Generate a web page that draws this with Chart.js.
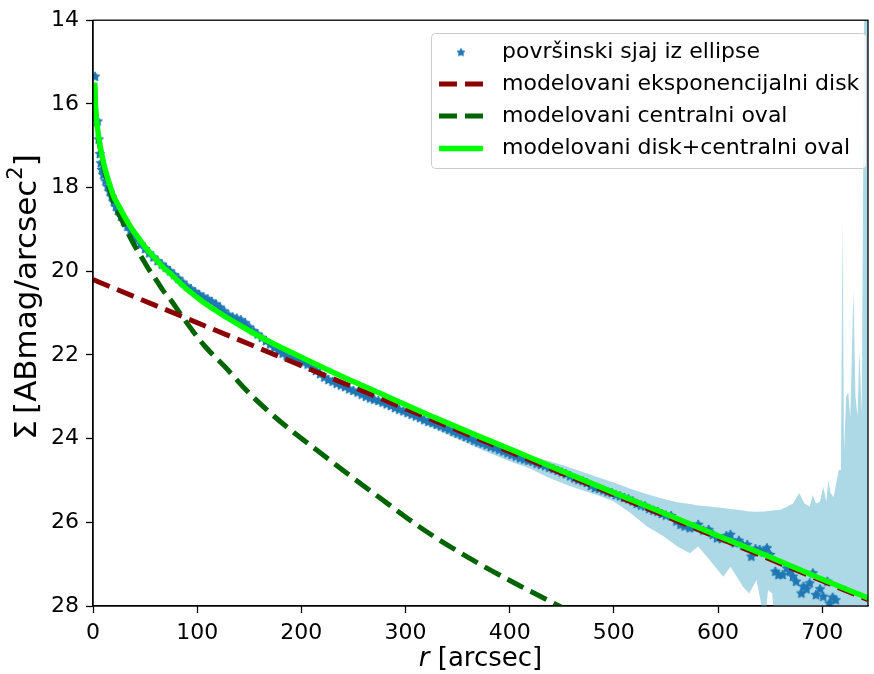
<!DOCTYPE html>
<html>
<head>
<meta charset="utf-8">
<script src="https://cdn.jsdelivr.net/npm/chart.js@4.4.1/dist/chart.umd.min.js"></script>
<style>
  html, body { margin: 0; padding: 0; background: #fff; }
  canvas { display: block; }
</style>
</head>
<body>
<canvas id="chart" width="874" height="674"></canvas>
<script>
// surface brightness profile
const dataR = [2, 4.5, 5.5, 6.5, 7.5, 8.5, 10, 12, 14, 16, 18, 20, 22, 24, 27, 30, 33, 36, 39, 42,
  46, 50, 54, 58, 62, 66, 70, 74, 78, 82, 86, 90, 94, 98, 102, 106, 110, 114, 118, 122,
  126, 130, 134, 138, 142, 146, 150, 154, 158, 162, 166, 170, 174, 178, 182, 186, 190, 194, 198, 202,
  206, 210, 214, 218, 222, 226, 230, 234, 238, 242, 246, 250, 254, 258, 262, 266, 270, 274, 278, 282,
  286, 290, 294, 298, 302, 306, 310, 314, 318, 322, 326, 330, 334, 338, 342, 346, 350, 354, 358, 362,
  366, 370, 374, 378, 382, 386, 390, 394, 398, 402, 406, 410, 414, 418, 422, 426, 430, 434, 438, 442,
  446, 450, 454, 458, 462, 466, 470, 474, 478, 482, 486, 490, 494, 498, 502, 506, 510, 514, 518, 522,
  526, 530, 534, 538, 542, 546, 550, 555, 560, 564, 568, 573, 577, 581, 586, 591, 595, 599, 604, 608,
  612, 616, 620, 624, 628, 632, 636, 640, 644, 647, 650, 655, 658, 662, 666, 669, 672, 675, 680, 682,
  685, 688, 691, 694, 698, 701, 705, 707, 710, 713, 717];
const dataSigma = [15.35, 16.42, 16.85, 17.2, 17.42, 17.58, 17.7, 17.85, 17.98, 18.1, 18.22, 18.35, 18.46, 18.56, 18.7, 18.82, 18.94, 19.04, 19.14, 19.24,
  19.36, 19.47, 19.57, 19.67, 19.76, 19.84, 19.92, 20.0, 20.09, 20.18, 20.27, 20.36, 20.43, 20.5, 20.56, 20.62, 20.67, 20.73, 20.79, 20.87,
  20.96, 21.05, 21.1, 21.13, 21.17, 21.24, 21.34, 21.43, 21.51, 21.59, 21.67, 21.75, 21.83, 21.9, 21.97, 22.03, 22.08, 22.12, 22.15, 22.18,
  22.23, 22.3, 22.38, 22.46, 22.54, 22.6, 22.64, 22.69, 22.73, 22.77, 22.82, 22.86, 22.9, 22.95, 23.0, 23.04, 23.07, 23.1, 23.14, 23.18,
  23.22, 23.27, 23.31, 23.35, 23.39, 23.43, 23.47, 23.51, 23.56, 23.6, 23.63, 23.67, 23.71, 23.75, 23.79, 23.84, 23.88, 23.92, 23.96, 24.0,
  24.05, 24.09, 24.12, 24.16, 24.2, 24.23, 24.27, 24.31, 24.35, 24.39, 24.43, 24.47, 24.5, 24.53, 24.55, 24.6, 24.63, 24.66, 24.7, 24.73,
  24.77, 24.81, 24.85, 24.9, 24.95, 24.99, 25.02, 25.06, 25.13, 25.18, 25.2, 25.24, 25.28, 25.3, 25.35, 25.38, 25.42, 25.45, 25.5, 25.56,
  25.6, 25.62, 25.68, 25.72, 25.75, 25.8, 25.84, 25.85, 25.98, 26.06, 26.1, 26.14, 26.12, 26.06, 26.2, 26.18, 26.3, 26.38, 26.4, 26.33,
  26.3, 26.5, 26.44, 26.56, 26.54, 26.82, 26.64, 26.66, 26.72, 26.62, 26.78, 27.18, 27.26, 27.26, 27.1, 27.18, 27.3, 27.42, 27.7, 27.54,
  27.6, 27.46, 27.22, 27.74, 27.6, 27.78, 27.42, 27.94, 27.8, 27.86, 28.2];

// error envelope
const bandR = [300, 340, 380, 400, 420, 436, 452, 468, 484, 500, 516, 532, 548, 561, 573, 581, 592, 605, 612, 624,
  630, 637, 645, 648, 652, 655, 660, 666, 672, 678, 683, 688, 691, 694, 698, 701, 704, 706, 708, 711,
  714, 716, 718, 719.5, 721, 723, 725, 727, 730, 732, 734, 735.7, 738, 740.5, 744];
const bandUpper = [23.34, 23.74, 24.1, 24.26, 24.42, 24.52, 24.64, 24.78, 24.92, 25.05, 25.2, 25.33, 25.44, 25.52, 25.56, 25.6, 25.62, 25.66, 25.68, 25.72,
  25.74, 25.75, 25.74, 25.73, 25.72, 25.71, 25.7, 25.63, 25.55, 25.3, 25.55, 25.62, 25.35, 25.55, 25.5, 25.15, 25.5, 25.0, 25.3, 25.4,
  25.0, 24.75, 24.75, 18.74, 24.3, 23.0, 22.9, 23.5, 20.45, 23.0, 23.48, 21.88, 23.4, 13, 13];
const bandLower = [23.42, 23.9, 24.34, 24.54, 24.72, 24.92, 25.08, 25.22, 25.35, 25.5, 25.78, 26.1, 26.34, 26.58, 26.74, 26.58, 26.9, 27.3, 27.06, 27.54,
  27.7, 27.38, 28.4, 27.62, 27.7, 28.5, 29, 29, 29, 29, 29, 29, 29, 29, 29, 29, 29, 29, 29, 29,
  29, 29, 29, 29, 29, 29, 29, 29, 29, 29, 29, 29, 29, 29, 29];

// models
const diskR = [0, 744];
const diskSigma = [20.2, 27.85];
const modelR = [1.6, 2, 2.5, 3, 4, 5, 6, 7.5, 9, 11, 13, 16, 20, 25, 30, 38, 47, 53, 60, 67,
  75, 84, 95, 107, 128, 147, 169, 188, 214, 245, 274, 320, 370, 410, 446, 470, 500, 550, 600, 650,
  700, 744];
const ovalSigma = [15.5, 15.85, 16.12, 16.32, 16.55, 16.75, 16.93, 17.15, 17.35, 17.58, 17.78, 18.05, 18.38, 18.64, 18.9, 19.3, 19.68, 19.93, 20.18, 20.45,
  20.7, 21.02, 21.4, 21.78, 22.32, 22.84, 23.36, 23.76, 24.26, 24.85, 25.39, 26.22, 26.98, 27.52, 27.98, 28.28, 28.65, 29.2, 29.75, 30.3,
  30.8, 31.3];
const totalSigma = [15.49, 15.83, 16.1, 16.29, 16.51, 16.71, 16.88, 17.09, 17.28, 17.5, 17.68, 17.93, 18.22, 18.45, 18.68, 19.01, 19.32, 19.51, 19.7, 19.9,
  20.07, 20.29, 20.53, 20.76, 21.1, 21.38, 21.68, 21.91, 22.22, 22.58, 22.9, 23.41, 23.94, 24.35, 24.73, 24.98, 25.29, 25.8, 26.32, 26.83,
  27.36, 27.81];

const xTicks = [0, 100, 200, 300, 400, 500, 600, 700];
const yTicks = [14, 16, 18, 20, 22, 24, 26, 28];
const seriesNames = ["površinski sjaj iz ellipse", "modelovani eksponencijalni disk",
  "modelovani centralni oval", "modelovani disk+centralni oval"];

const FONT = "'DejaVu Sans', 'Liberation Sans', sans-serif";
const BLUE = "#1f77b4";
const RED = "#8b0000";
const DKGREEN = "#006400";
const LIME = "#00ff00";
const BAND = "#add8e6";

function pts(xs, ys) {
  return xs.map((x, i) => ({ x: x, y: ys[i] }));
}

function makeStar(outer, inner, color) {
  const c = document.createElement("canvas");
  const s = Math.ceil(outer * 2) + 2;
  c.width = s;
  c.height = s;
  const g = c.getContext("2d");
  g.beginPath();
  for (let i = 0; i < 10; i++) {
    const rad = i % 2 === 0 ? outer : inner;
    const a = -Math.PI / 2 + i * Math.PI / 5;
    g.lineTo(s / 2 + rad * Math.cos(a), s / 2 + rad * Math.sin(a));
  }
  g.closePath();
  g.fillStyle = color;
  g.fill();
  g.strokeStyle = color;
  g.lineWidth = 1;
  g.stroke();
  return c;
}

const star = makeStar(5, 2.5, BLUE);
const legendStar = makeStar(4, 2, BLUE);

// full box, drawn over the data like matplotlib spines
const framePlugin = {
  id: "frame",
  afterDatasetsDraw(chart) {
    const a = chart.chartArea;
    const ctx = chart.ctx;
    ctx.save();
    ctx.strokeStyle = "#000";
    ctx.lineWidth = 1.3;
    ctx.strokeRect(a.left, a.top, a.right - a.left, a.bottom - a.top);
    ctx.restore();
  }
};

const titlePlugin = {
  id: "titles",
  afterDraw(chart) {
    const ctx = chart.ctx;
    const a = chart.chartArea;
    ctx.save();
    ctx.fillStyle = "#000";
    ctx.textBaseline = "middle";
    ctx.textAlign = "left";

    // x label, italic r
    ctx.font = "italic 26px " + FONT;
    const w1 = ctx.measureText("r").width;
    ctx.font = "26px " + FONT;
    const w2 = ctx.measureText(" [arcsec]").width;
    const x = (a.left + a.right) / 2 - (w1 + w2) / 2;
    ctx.font = "italic 26px " + FONT;
    ctx.fillText("r", x, 659);
    ctx.font = "26px " + FONT;
    ctx.fillText(" [arcsec]", x + w1, 659);

    // y label with superscript 2
    ctx.translate(28, 297);
    ctx.rotate(-Math.PI / 2);
    const p1 = "Σ\u2009[ABmag/arcsec";
    const p3 = "]";
    ctx.font = "31px " + FONT;
    const m1 = ctx.measureText(p1).width;
    const m3 = ctx.measureText(p3).width;
    ctx.font = "21px " + FONT;
    const m2 = ctx.measureText("2").width;
    const sx = -(m1 + m2 + m3) / 2;
    ctx.font = "31px " + FONT;
    ctx.fillText(p1, sx, 0);
    ctx.font = "21px " + FONT;
    ctx.fillText("2", sx + m1, -11);
    ctx.font = "31px " + FONT;
    ctx.fillText(p3, sx + m1 + m2, 0);
    ctx.restore();
  }
};

const legendPlugin = {
  id: "boxLegend",
  afterDraw(chart) {
    const ctx = chart.ctx;
    ctx.save();
    ctx.beginPath();
    ctx.roundRect(431.5, 33.5, 435, 135, 4);
    ctx.fillStyle = "rgba(255,255,255,0.8)";
    ctx.fill();
    ctx.strokeStyle = "#cccccc";
    ctx.lineWidth = 1;
    ctx.stroke();

    const rows = [52.5, 84, 116, 148.5];
    const hx0 = 439, hx1 = 483;
    rows.forEach((ry, i) => {
      if (i === 0) {
        ctx.drawImage(legendStar, (hx0 + hx1) / 2 - legendStar.width / 2, ry - legendStar.height / 2);
      } else {
        ctx.beginPath();
        ctx.moveTo(hx0, ry);
        ctx.lineTo(hx1, ry);
        ctx.lineCap = "butt";
        if (i === 1) { ctx.strokeStyle = RED; ctx.lineWidth = 5; ctx.setLineDash([18, 8]); }
        if (i === 2) { ctx.strokeStyle = DKGREEN; ctx.lineWidth = 5; ctx.setLineDash([18, 8]); }
        if (i === 3) { ctx.strokeStyle = LIME; ctx.lineWidth = 5.5; ctx.setLineDash([]); }
        ctx.stroke();
        ctx.setLineDash([]);
      }
      ctx.fillStyle = "#000";
      ctx.font = "22px " + FONT;
      ctx.textAlign = "left";
      ctx.textBaseline = "middle";
      ctx.fillText(seriesNames[i], 502, ry);
    });
    ctx.restore();
  }
};

const axisTicks = { color: "#000", font: { family: FONT, size: 22 }, padding: 7 };
const axisGrid = { drawOnChartArea: false, drawTicks: true, tickLength: 7, tickColor: "#000", tickWidth: 1.3 };
const axisBorder = { display: true, color: "#000", width: 1.3 };

new Chart(document.getElementById("chart"), {
  type: "line",
  data: {
    datasets: [
      {
        label: "band upper",
        data: pts(bandR, bandUpper),
        borderWidth: 0,
        pointRadius: 0,
        fill: "+1",
        backgroundColor: BAND,
        borderColor: BAND,
        order: 5,
        clip: 0
      },
      {
        label: "band lower",
        data: pts(bandR, bandLower),
        borderWidth: 0,
        pointRadius: 0,
        fill: false,
        order: 6,
        clip: 0
      },
      {
        label: seriesNames[0],
        data: pts(dataR, dataSigma),
        showLine: false,
        pointStyle: star,
        pointRadius: 5,
        backgroundColor: BLUE,
        borderColor: BLUE,
        order: 4,
        clip: 0
      },
      {
        label: seriesNames[1],
        data: pts(diskR, diskSigma),
        borderColor: RED,
        borderWidth: 5,
        borderDash: [18, 8],
        borderCapStyle: "butt",
        pointRadius: 0,
        fill: false,
        order: 2,
        clip: 0
      },
      {
        label: seriesNames[2],
        data: pts(modelR, ovalSigma),
        borderColor: DKGREEN,
        borderWidth: 5,
        borderDash: [18, 8],
        borderCapStyle: "butt",
        cubicInterpolationMode: "monotone",
        pointRadius: 0,
        fill: false,
        order: 3,
        clip: 0
      },
      {
        label: seriesNames[3],
        data: pts(modelR, totalSigma),
        borderColor: LIME,
        borderWidth: 5.5,
        cubicInterpolationMode: "monotone",
        borderJoinStyle: "round",
        pointRadius: 0,
        fill: false,
        order: 1,
        clip: 0
      }
    ]
  },
  options: {
    responsive: false,
    animation: false,
    devicePixelRatio: 1,
    layout: { padding: { top: 20, right: 2, left: 0, bottom: 0 } },
    plugins: { legend: { display: false }, tooltip: { enabled: false } },
    scales: {
      x: {
        type: "linear",
        min: 0,
        max: 744,
        afterBuildTicks: (s) => { s.ticks = xTicks.map(v => ({ value: v })); },
        afterFit: (s) => { s.height = 68; },
        ticks: Object.assign({ maxRotation: 0 }, axisTicks),
        grid: axisGrid,
        border: axisBorder
      },
      y: {
        type: "linear",
        reverse: true,
        min: 14,
        max: 28,
        afterBuildTicks: (s) => { s.ticks = yTicks.map(v => ({ value: v })); },
        afterFit: (s) => { s.width = 93; },
        ticks: axisTicks,
        grid: axisGrid,
        border: axisBorder
      }
    }
  },
  plugins: [framePlugin, titlePlugin, legendPlugin]
});
</script>
</body>
</html>
